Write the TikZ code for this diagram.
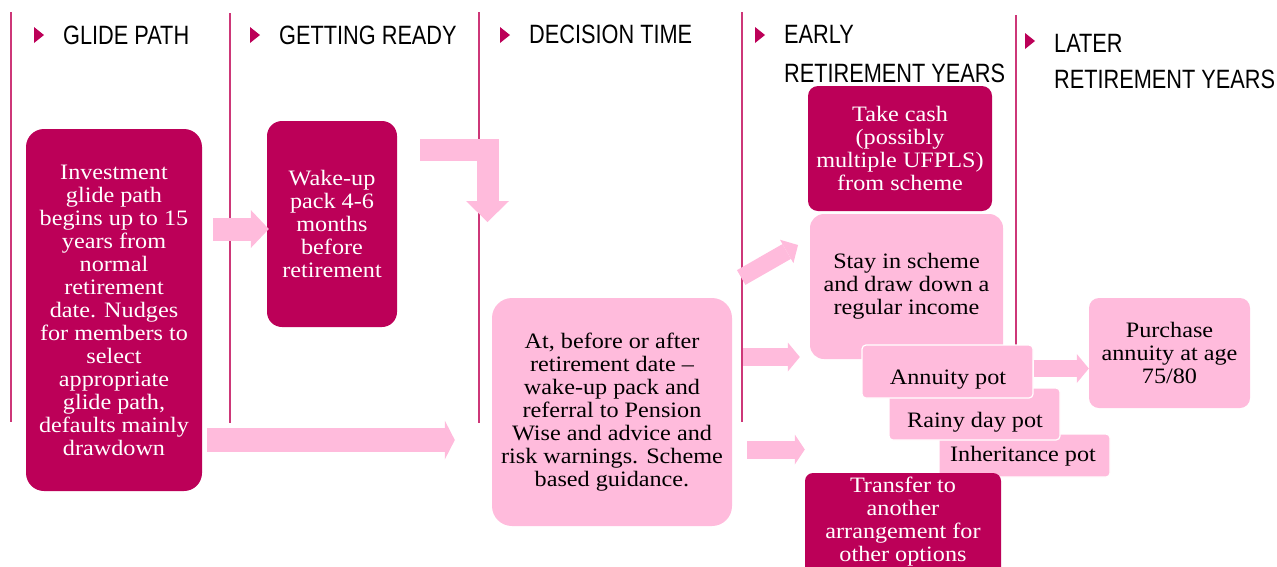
\documentclass[tikz,border=0pt]{standalone}
\usepackage{fontspec}
\setmainfont{Liberation Serif}[FakeStretch=1.1]
\newfontfamily\hdrfont{Liberation Sans}[FakeStretch=0.82]
\usetikzlibrary{arrows.meta}
\definecolor{dmag}{RGB}{188,0,88}
\definecolor{lpink}{RGB}{255,187,220}
\definecolor{rulecol}{RGB}{205,55,120}

\begin{document}
\begin{tikzpicture}[x=1pt,y=-1pt,
  divider/.style={draw=rulecol, line width=1.4pt},
  hdr/.style={font=\hdrfont\fontsize{26.5}{30}\selectfont, inner sep=0pt, anchor=base west, text=black},
  marker/.style={fill=dmag},
  box/.style={rounded corners=#1, inner sep=0pt, align=center, font=\fontsize{22}{23}\selectfont},
  darkbox/.style={box=#1, fill=dmag, text=white},
  lightbox/.style={box=#1, fill=lpink, text=black},
  potbox/.style={box=4pt, fill=lpink, draw=white, line width=1.2pt},
  pottext/.style={inner sep=0pt, anchor=base, font=\fontsize{22}{23}\selectfont},
  boxtext/.style={inner sep=0pt, align=center, font=\fontsize{22}{23}\selectfont},
  blk/.style n args={3}{draw=lpink, line width=#1, -{Triangle[length=#2,width=#3,line width=0pt]}},
]
\useasboundingbox (0,0) rectangle (1277,566);
\clip (0,0) rectangle (1277,566);

% column dividers
\draw[divider] (11,12) -- (11,422);
\draw[divider] (230,13) -- (230,423);
\draw[divider] (479,12) -- (479,423);
\draw[divider] (742,12) -- (742,422);
\draw[divider] (1016,15) -- (1016,346);

% column headings
\fill[marker] (34,27) -- (44,35) -- (34,43) -- cycle;
\node[hdr] (hglide) at (63,44) {GLIDE PATH};
\fill[marker] (250,27) -- (260,35) -- (250,43) -- cycle;
\node[hdr] (hready) at (279,44) {GETTING READY};
\fill[marker] (500,27) -- (510,35) -- (500,43) -- cycle;
\node[hdr] (hdecision) at (529,43) {DECISION TIME};
\fill[marker] (755,27) -- (765,35) -- (755,43) -- cycle;
\node[hdr] (hearly) at (784,43) {EARLY};
\node[hdr] (hearly2) at (784,82) {RETIREMENT YEARS};
\fill[marker] (1025,33) -- (1035,41) -- (1025,49) -- cycle;
\node[hdr] (hlater) at (1054,52) {LATER};
\node[hdr] (hlater2) at (1054,88) {RETIREMENT YEARS};

% stage boxes
\node[darkbox=18pt, minimum width=176pt, minimum height=362pt] (glide) at (114,310)
  {Investment\\glide path\\begins up to 15\\years from\\normal\\retirement\\date. Nudges\\for members to\\select\\appropriate\\glide path,\\defaults mainly\\drawdown};
\node[darkbox=15pt, minimum width=130pt, minimum height=206pt] (wake) at (332,224)
  {Wake-up\\pack 4-6\\months\\before\\retirement};
\node[lightbox=20pt, minimum width=240pt, minimum height=228pt] (dec) at (612,412)
  {At, before or after\\retirement date --\\wake-up pack and\\referral to Pension\\Wise and advice and\\risk warnings. Scheme\\based guidance.};

% early retirement options
\node[darkbox=10pt, minimum width=184pt, minimum height=125pt] (cash) at (900,148.5)
  {Take cash\\(possibly\\multiple UFPLS)\\from scheme};
\node[lightbox=14pt, minimum width=193pt, minimum height=145pt] (stay) at (906.5,286.5)
  {Stay in scheme\\and draw down a\\regular income};
\node[potbox, minimum width=171pt, minimum height=43pt] (inherit) at (1024.5,455.5) {};
\node[pottext] (inherittext) at (1023,461) {Inheritance pot};
\node[potbox, minimum width=171pt, minimum height=52pt] (rainy) at (974.5,414) {};
\node[pottext] (rainytext) at (975,427) {Rainy day pot};
\node[potbox, minimum width=171pt, minimum height=53pt] (annuity) at (947.5,371.5) {};
\node[pottext] (annuitytext) at (948,384) {Annuity pot};
\node[darkbox=8pt, minimum width=196pt, minimum height=130pt] (transfer) at (903,538) {};
\node[boxtext, text=white] (transfertext) at (903,522)
  {Transfer to\\another\\arrangement for\\other options};

% later retirement
\node[lightbox=10pt, minimum width=161pt, minimum height=110pt] (purchase) at (1169.5,353)
  {Purchase\\annuity at age\\75/80};

% block arrows
\coordinate (decin) at (487.5,222);
\coordinate (stayin) at (798,245);
\draw[blk={23pt}{18pt}{38pt}] ([xshift=11pt]glide.east |- 0,229) -- ([xshift=2pt]wake.west |- 0,229);
\draw[blk={24pt}{10pt}{39pt}] ([xshift=5pt]glide.east |- 0,440) -- ([xshift=-37pt]dec.west |- 0,440);
\draw[blk={22pt}{21pt}{43pt}] ([xshift=23pt]wake.east |- 0,150) -| (decin);
\draw[blk={17pt}{13pt}{27pt}] ([xshift=9pt]dec.east |- 0,277.5) -- (stayin);
\draw[blk={18pt}{12pt}{29pt}] ([xshift=11pt]dec.east |- 0,357) -- ([xshift=-10pt]stay.west |- 0,357);
\draw[blk={18pt}{10pt}{30pt}] ([xshift=15pt]dec.east |- 0,449.5) -- (transfer.west |- 0,449.5);
\draw[blk={17pt}{12pt}{29pt}] (annuity.east |- 0,368.5) -- (purchase.west |- 0,368.5);
\end{tikzpicture}
\end{document}
